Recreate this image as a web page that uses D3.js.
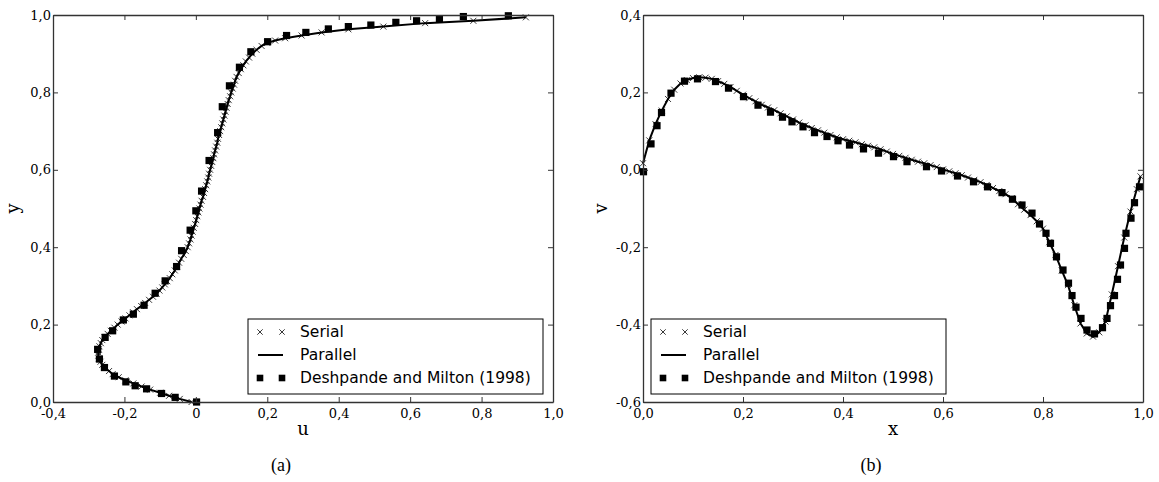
<!DOCTYPE html>
<html>
<head>
<meta charset="utf-8">
<script src="https://cdn.jsdelivr.net/npm/d3@7"></script>
<style>
  body { margin: 0; background: #fff; }
  svg { display: block; }
  .tick text { font-family: "DejaVu Serif", serif; font-size: 13px; fill: #000; }
</style>
</head>
<body>
<div id="theChart"></div>
<script>
// panel (a): u along the vertical centre line, [y, u]
const profileA = [
  [0.000, -0.012], [0.008, -0.045], [0.016, -0.075], [0.024, -0.100], [0.032, -0.128],
  [0.040, -0.152], [0.048, -0.175], [0.056, -0.197], [0.064, -0.216], [0.072, -0.233],
  [0.080, -0.243], [0.088, -0.254], [0.096, -0.262], [0.104, -0.267], [0.112, -0.271],
  [0.120, -0.273], [0.128, -0.273], [0.136, -0.272], [0.144, -0.270], [0.152, -0.266],
  [0.160, -0.262], [0.168, -0.256], [0.176, -0.247], [0.184, -0.238], [0.192, -0.228],
  [0.200, -0.219], [0.208, -0.208], [0.216, -0.197], [0.224, -0.186], [0.232, -0.176],
  [0.240, -0.165], [0.248, -0.153], [0.256, -0.142], [0.264, -0.131], [0.272, -0.120],
  [0.280, -0.110], [0.288, -0.102], [0.296, -0.094], [0.304, -0.087], [0.312, -0.080],
  [0.320, -0.073], [0.330, -0.066], [0.340, -0.059], [0.350, -0.053], [0.360, -0.047],
  [0.370, -0.041], [0.380, -0.034], [0.390, -0.028], [0.400, -0.023], [0.410, -0.019],
  [0.420, -0.015], [0.430, -0.012], [0.440, -0.009], [0.450, -0.006], [0.460, -0.002],
  [0.470, 0.001], [0.480, 0.004], [0.490, 0.007], [0.500, 0.010], [0.510, 0.013],
  [0.520, 0.016], [0.530, 0.020], [0.540, 0.023], [0.550, 0.026], [0.560, 0.029],
  [0.570, 0.032], [0.580, 0.035], [0.590, 0.037], [0.600, 0.040], [0.610, 0.043],
  [0.620, 0.046], [0.630, 0.049], [0.640, 0.051], [0.650, 0.054], [0.660, 0.057],
  [0.670, 0.060], [0.680, 0.062], [0.690, 0.065], [0.700, 0.068], [0.710, 0.071],
  [0.720, 0.074], [0.730, 0.077], [0.740, 0.080], [0.750, 0.083], [0.760, 0.086],
  [0.770, 0.089], [0.780, 0.092], [0.790, 0.096], [0.800, 0.099], [0.810, 0.103],
  [0.820, 0.107], [0.830, 0.110], [0.840, 0.114], [0.850, 0.120], [0.860, 0.126],
  [0.870, 0.133], [0.880, 0.140], [0.890, 0.149], [0.900, 0.158], [0.910, 0.170],
  [0.920, 0.184], [0.928, 0.200], [0.934, 0.222], [0.940, 0.250], [0.947, 0.296],
  [0.955, 0.352], [0.963, 0.427], [0.970, 0.525], [0.979, 0.642], [0.985, 0.777],
  [0.994, 0.924]
]

// Deshpande and Milton (1998), panel (a), [u, y]
const refA = [
  [0.002, 0.000], [-0.058, 0.012], [-0.096, 0.022], [-0.138, 0.034], [-0.170, 0.042],
  [-0.196, 0.052], [-0.228, 0.067], [-0.256, 0.089], [-0.270, 0.111], [-0.275, 0.136],
  [-0.254, 0.167], [-0.233, 0.184], [-0.203, 0.212], [-0.175, 0.227], [-0.145, 0.250],
  [-0.114, 0.281], [-0.086, 0.313], [-0.054, 0.350], [-0.040, 0.391], [-0.016, 0.444],
  [0.000, 0.494], [0.016, 0.545], [0.037, 0.624], [0.061, 0.696], [0.074, 0.763],
  [0.094, 0.817], [0.122, 0.865], [0.154, 0.905], [0.201, 0.931], [0.254, 0.947],
  [0.308, 0.955], [0.371, 0.964], [0.427, 0.970], [0.490, 0.974], [0.560, 0.981],
  [0.618, 0.985], [0.682, 0.990], [0.749, 0.996], [0.875, 0.998]
]

// panel (b): v along the horizontal centre line, [x, v]
const profileB = [
  [0.0000, 0.017], [0.0125, 0.076], [0.0250, 0.118], [0.0375, 0.153], [0.0500, 0.183],
  [0.0625, 0.207], [0.0750, 0.223], [0.0875, 0.232], [0.1000, 0.237], [0.1125, 0.239],
  [0.1250, 0.238], [0.1375, 0.235], [0.1500, 0.229], [0.1625, 0.222], [0.1750, 0.214],
  [0.1875, 0.204], [0.2000, 0.194], [0.2125, 0.185], [0.2250, 0.177], [0.2375, 0.168],
  [0.2500, 0.161], [0.2625, 0.154], [0.2750, 0.146], [0.2875, 0.138], [0.3000, 0.130],
  [0.3125, 0.122], [0.3250, 0.115], [0.3375, 0.108], [0.3500, 0.102], [0.3625, 0.096],
  [0.3750, 0.090], [0.3875, 0.084], [0.4000, 0.079], [0.4125, 0.075], [0.4250, 0.071],
  [0.4375, 0.066], [0.4500, 0.062], [0.4625, 0.058], [0.4750, 0.053], [0.4875, 0.047],
  [0.5000, 0.041], [0.5125, 0.036], [0.5250, 0.031], [0.5375, 0.026], [0.5500, 0.021],
  [0.5625, 0.017], [0.5750, 0.012], [0.5875, 0.007], [0.6000, 0.001], [0.6125, -0.004],
  [0.6250, -0.009], [0.6375, -0.014], [0.6500, -0.020], [0.6625, -0.026], [0.6750, -0.032],
  [0.6875, -0.039], [0.7000, -0.047], [0.7125, -0.055], [0.7250, -0.063], [0.7375, -0.073],
  [0.7500, -0.089], [0.7625, -0.103], [0.7750, -0.117], [0.7875, -0.133], [0.8000, -0.152],
  [0.8125, -0.187], [0.8250, -0.220], [0.8375, -0.260], [0.8500, -0.298], [0.8625, -0.350],
  [0.8750, -0.397], [0.8875, -0.423], [0.9000, -0.431], [0.9125, -0.420], [0.9250, -0.392],
  [0.9375, -0.322], [0.9500, -0.249], [0.9625, -0.175], [0.9750, -0.108], [0.9875, -0.050],
  [0.9950, -0.017]
]

// Deshpande and Milton (1998), panel (b), [x, v]
const refB = [
  [0.001, -0.005], [0.016, 0.067], [0.028, 0.114], [0.037, 0.148], [0.056, 0.198],
  [0.083, 0.229], [0.109, 0.235], [0.145, 0.228], [0.171, 0.211], [0.201, 0.189],
  [0.230, 0.167], [0.255, 0.149], [0.279, 0.136], [0.298, 0.124], [0.320, 0.111],
  [0.343, 0.096], [0.368, 0.086], [0.390, 0.075], [0.413, 0.064], [0.441, 0.054],
  [0.471, 0.043], [0.501, 0.034], [0.528, 0.021], [0.567, 0.008], [0.597, -0.003],
  [0.629, -0.016], [0.661, -0.031], [0.689, -0.044], [0.718, -0.059], [0.739, -0.076],
  [0.758, -0.091], [0.778, -0.112], [0.793, -0.140], [0.806, -0.164], [0.815, -0.190],
  [0.827, -0.225], [0.840, -0.259], [0.851, -0.293], [0.858, -0.325], [0.866, -0.355],
  [0.876, -0.384], [0.888, -0.414], [0.903, -0.424], [0.919, -0.408], [0.928, -0.384],
  [0.935, -0.351], [0.943, -0.325], [0.949, -0.283], [0.955, -0.246], [0.963, -0.203],
  [0.966, -0.164], [0.976, -0.125], [0.983, -0.085], [0.993, -0.044]
]

const xTicksA = [-0.4, -0.2, 0, 0.2, 0.4, 0.6, 0.8, 1.0]
const xTickLabelsA = ["-0,4", "-0,2", "0", "0,2", "0,4", "0,6", "0,8", "1,0"]
const yTicksA = [0, 0.2, 0.4, 0.6, 0.8, 1.0]
const yTickLabelsA = ["0,0", "0,2", "0,4", "0,6", "0,8", "1,0"]
const xTicksB = [0, 0.2, 0.4, 0.6, 0.8, 1.0]
const xTickLabelsB = ["0,0", "0,2", "0,4", "0,6", "0,8", "1,0"]
const yTicksB = [-0.6, -0.4, -0.2, 0, 0.2, 0.4]
const yTickLabelsB = ["-0,6", "-0,4", "-0,2", "0,0", "0,2", "0,4"]
const legendLabels = ["Serial", "Parallel", "Deshpande and Milton (1998)"]

const w = 1159
const h = 482

const svg = d3
	.select("#theChart")
	.append("svg")
	.attr("width", w)
	.attr("height", h)

function crossPath(s) {
	return `M${-s},${-s}L${s},${s}M${-s},${s}L${s},${-s}`
}

function drawPanel(opt) {
	const pw = 500
	const ph = 387
	const g = svg.append("g").attr("transform", `translate(${opt.left}, 15)`)

	const x = d3.scaleLinear().domain(opt.xDomain).range([0, pw])
	const y = d3.scaleLinear().domain(opt.yDomain).range([ph, 0])

	// the solver output is stored [abscissa, ordinate] in the plot's own axes
	const pts = opt.profile.map(p => (opt.swap ? [p[1], p[0]] : p))

	// serial: crosses
	g.append("g")
		.selectAll("path")
		.data(pts)
		.enter()
		.append("path")
		.attr("transform", d => `translate(${x(d[0])}, ${y(d[1])})`)
		.attr("d", crossPath(3))
		.attr("stroke", "#222")
		.attr("stroke-width", 0.9)
		.attr("fill", "none")

	// parallel: line
	const line = d3
		.line()
		.x(d => x(d[0]))
		.y(d => y(d[1]))
	g.append("path")
		.datum(pts)
		.attr("d", line)
		.attr("fill", "none")
		.attr("stroke", "#000")
		.attr("stroke-width", 2)

	// reference squares
	g.append("g")
		.selectAll("rect")
		.data(opt.ref)
		.enter()
		.append("rect")
		.attr("x", d => x(d[0]) - 3.6)
		.attr("y", d => y(d[1]) - 3.6)
		.attr("width", 7.2)
		.attr("height", 7.2)
		.attr("fill", "#000")

	// axes, ticks pointing in on every side
	const fmt = labels => (d, i) => labels[i]
	g.append("g")
		.attr("transform", `translate(0, ${ph})`)
		.call(
			d3.axisBottom(x).tickValues(opt.xTicks).tickFormat(fmt(opt.xLabels))
				.tickSizeInner(-5).tickSizeOuter(0).tickPadding(7),
		)
	g.append("g").call(
		d3.axisTop(x).tickValues(opt.xTicks).tickFormat("")
			.tickSizeInner(-5).tickSizeOuter(0),
	)
	g.append("g").call(
		d3.axisLeft(y).tickValues(opt.yTicks).tickFormat(fmt(opt.yLabels))
			.tickSizeInner(-5).tickSizeOuter(0).tickPadding(2),
	)
	g.append("g")
		.attr("transform", `translate(${pw}, 0)`)
		.call(
			d3.axisRight(y).tickValues(opt.yTicks).tickFormat("")
				.tickSizeInner(-5).tickSizeOuter(0),
		)
	g.selectAll(".domain").attr("stroke", "#333").attr("stroke-width", 1.3)
	g.selectAll(".tick line").attr("stroke", "#333").attr("stroke-width", 1)
	g.selectAll(".tick text").attr("fill", "#000")

	// axis titles
	g.append("text")
		.attr("x", pw / 2)
		.attr("y", ph + 33)
		.attr("text-anchor", "middle")
		.style("font-family", "DejaVu Serif, serif")
		.style("font-size", "18px")
		.text(opt.xTitle)
	g.append("text")
		.attr("transform", `translate(${opt.yTitleX}, ${ph / 2}) rotate(-90)`)
		.attr("text-anchor", "middle")
		.style("font-family", "DejaVu Serif, serif")
		.style("font-size", "18px")
		.text(opt.yTitle)

	// caption
	svg.append("text")
		.attr("x", opt.captionX)
		.attr("y", 471)
		.attr("text-anchor", "middle")
		.style("font-family", "'Liberation Serif', serif")
		.style("font-size", "18px")
		.text(opt.caption)

	// legend
	const legend = g.append("g").attr("transform", `translate(${opt.legendX}, 304)`)
	legend
		.append("rect")
		.attr("width", 295)
		.attr("height", 75)
		.attr("fill", "#fff")
		.attr("stroke", "#000")
		.attr("stroke-width", 1)

	legend
		.selectAll("mylabels")
		.data(legendLabels)
		.enter()
		.append("text")
		.attr("x", 52)
		.attr("y", (d, i) => 13 + i * 23)
		.style("font-family", "DejaVu Sans, sans-serif")
		.style("font-size", "15.5px")
		.style("dominant-baseline", "central")
		.text(d => d)

	;[12, 34].forEach(mx => {
		legend.append("path")
			.attr("transform", `translate(${mx}, 13)`)
			.attr("d", crossPath(2.7))
			.attr("stroke", "#222")
			.attr("stroke-width", 0.9)
		legend.append("rect")
			.attr("x", mx - 3.3)
			.attr("y", 59 - 3.3)
			.attr("width", 6.6)
			.attr("height", 6.6)
			.attr("fill", "#000")
	})
	legend.append("line")
		.attr("x1", 10).attr("x2", 35)
		.attr("y1", 36).attr("y2", 36)
		.attr("stroke", "#000")
		.attr("stroke-width", 2)
}

drawPanel({
	left: 53,
	xDomain: [-0.4, 1.0],
	yDomain: [0, 1],
	profile: profileA,
	swap: true,
	ref: refA,
	xTicks: xTicksA,
	xLabels: xTickLabelsA,
	yTicks: yTicksA,
	yLabels: yTickLabelsA,
	xTitle: "u",
	yTitle: "y",
	yTitleX: -34,
	caption: "(a)",
	captionX: 281,
	legendX: 195,
})

drawPanel({
	left: 643,
	xDomain: [0, 1],
	yDomain: [-0.6, 0.4],
	profile: profileB,
	swap: false,
	ref: refB,
	xTicks: xTicksB,
	xLabels: xTickLabelsB,
	yTicks: yTicksB,
	yLabels: yTickLabelsB,
	xTitle: "x",
	yTitle: "v",
	yTitleX: -36,
	caption: "(b)",
	captionX: 871,
	legendX: 8,
})
</script>
</body>
</html>
